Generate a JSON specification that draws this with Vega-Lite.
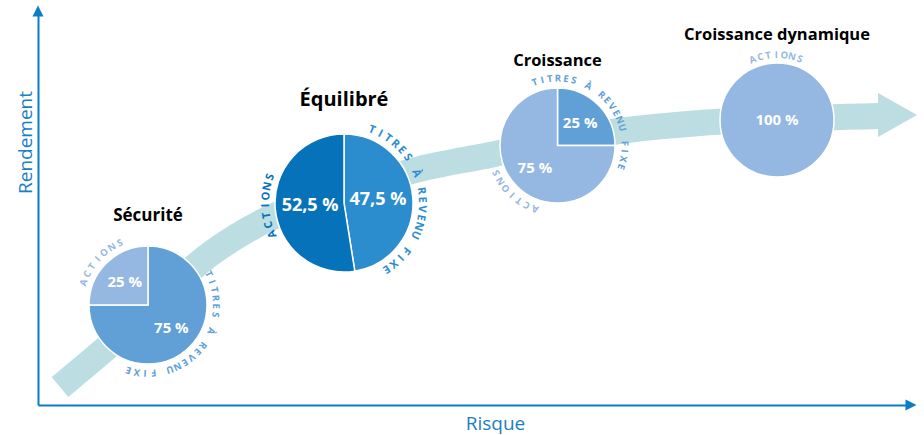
{
  "$schema": "https://vega.github.io/schema/vega-lite/v6.json",
  "width": 870,
  "height": 391,
  "autosize": {"type": "none"},
  "padding": {"left": 38, "top": 14, "right": 16, "bottom": 30},
  "background": "white",
  "datasets": {
    "portefeuilles": [
      {"portefeuille": "Sécurité", "risque": 110, "rendement": 100},
      {"portefeuille": "Équilibré", "risque": 306, "rendement": 202},
      {"portefeuille": "Croissance", "risque": 519.5, "rendement": 259.5},
      {"portefeuille": "Croissance dynamique", "risque": 739, "rendement": 285}
    ],
    "parts": [
      {"portefeuille": "Sécurité", "categorie": "Titres à revenu fixe", "pct": 0.75},
      {"portefeuille": "Sécurité", "categorie": "Actions", "pct": 0.25},
      {"portefeuille": "Équilibré", "categorie": "Titres à revenu fixe", "pct": 0.475},
      {"portefeuille": "Équilibré", "categorie": "Actions", "pct": 0.525},
      {"portefeuille": "Croissance", "categorie": "Titres à revenu fixe", "pct": 0.25},
      {"portefeuille": "Croissance", "categorie": "Actions", "pct": 0.75},
      {"portefeuille": "Croissance dynamique", "categorie": "Actions", "pct": 1}
    ],
    "fleche": [
      {"risque": 22, "rendement": 18},
      {"risque": 80, "rendement": 67},
      {"risque": 175, "rendement": 153},
      {"risque": 224, "rendement": 183},
      {"risque": 306, "rendement": 213},
      {"risque": 382, "rendement": 236},
      {"risque": 452, "rendement": 250},
      {"risque": 519, "rendement": 264},
      {"risque": 589, "rendement": 275},
      {"risque": 662, "rendement": 282},
      {"risque": 739, "rendement": 286},
      {"risque": 842, "rendement": 289}
    ],
    "lettres": [
      {"portefeuille": "Sécurité", "categorie": "Actions", "lettre": "A", "pos": 0.803},
      {"portefeuille": "Sécurité", "categorie": "Actions", "lettre": "C", "pos": 0.825},
      {"portefeuille": "Sécurité", "categorie": "Actions", "lettre": "T", "pos": 0.846},
      {"portefeuille": "Sécurité", "categorie": "Actions", "lettre": "I", "pos": 0.868},
      {"portefeuille": "Sécurité", "categorie": "Actions", "lettre": "O", "pos": 0.889},
      {"portefeuille": "Sécurité", "categorie": "Actions", "lettre": "N", "pos": 0.911},
      {"portefeuille": "Sécurité", "categorie": "Actions", "lettre": "S", "pos": 0.932},
      {"portefeuille": "Sécurité", "categorie": "Titres à revenu fixe", "lettre": "T", "pos": 0.175},
      {"portefeuille": "Sécurité", "categorie": "Titres à revenu fixe", "lettre": "I", "pos": 0.195},
      {"portefeuille": "Sécurité", "categorie": "Titres à revenu fixe", "lettre": "T", "pos": 0.214},
      {"portefeuille": "Sécurité", "categorie": "Titres à revenu fixe", "lettre": "R", "pos": 0.234},
      {"portefeuille": "Sécurité", "categorie": "Titres à revenu fixe", "lettre": "E", "pos": 0.253},
      {"portefeuille": "Sécurité", "categorie": "Titres à revenu fixe", "lettre": "S", "pos": 0.273},
      {"portefeuille": "Sécurité", "categorie": "Titres à revenu fixe", "lettre": "À", "pos": 0.312},
      {"portefeuille": "Sécurité", "categorie": "Titres à revenu fixe", "lettre": "R", "pos": 0.351},
      {"portefeuille": "Sécurité", "categorie": "Titres à revenu fixe", "lettre": "E", "pos": 0.370},
      {"portefeuille": "Sécurité", "categorie": "Titres à revenu fixe", "lettre": "V", "pos": 0.390},
      {"portefeuille": "Sécurité", "categorie": "Titres à revenu fixe", "lettre": "E", "pos": 0.409},
      {"portefeuille": "Sécurité", "categorie": "Titres à revenu fixe", "lettre": "N", "pos": 0.429},
      {"portefeuille": "Sécurité", "categorie": "Titres à revenu fixe", "lettre": "U", "pos": 0.448},
      {"portefeuille": "Sécurité", "categorie": "Titres à revenu fixe", "lettre": "F", "pos": 0.487},
      {"portefeuille": "Sécurité", "categorie": "Titres à revenu fixe", "lettre": "I", "pos": 0.507},
      {"portefeuille": "Sécurité", "categorie": "Titres à revenu fixe", "lettre": "X", "pos": 0.526},
      {"portefeuille": "Sécurité", "categorie": "Titres à revenu fixe", "lettre": "E", "pos": 0.546},
      {"portefeuille": "Équilibré", "categorie": "Actions", "lettre": "A", "pos": 0.685},
      {"portefeuille": "Équilibré", "categorie": "Actions", "lettre": "C", "pos": 0.705},
      {"portefeuille": "Équilibré", "categorie": "Actions", "lettre": "T", "pos": 0.725},
      {"portefeuille": "Équilibré", "categorie": "Actions", "lettre": "I", "pos": 0.745},
      {"portefeuille": "Équilibré", "categorie": "Actions", "lettre": "O", "pos": 0.764},
      {"portefeuille": "Équilibré", "categorie": "Actions", "lettre": "N", "pos": 0.784},
      {"portefeuille": "Équilibré", "categorie": "Actions", "lettre": "S", "pos": 0.804},
      {"portefeuille": "Équilibré", "categorie": "Titres à revenu fixe", "lettre": "T", "pos": 0.058},
      {"portefeuille": "Équilibré", "categorie": "Titres à revenu fixe", "lettre": "I", "pos": 0.077},
      {"portefeuille": "Équilibré", "categorie": "Titres à revenu fixe", "lettre": "T", "pos": 0.095},
      {"portefeuille": "Équilibré", "categorie": "Titres à revenu fixe", "lettre": "R", "pos": 0.114},
      {"portefeuille": "Équilibré", "categorie": "Titres à revenu fixe", "lettre": "E", "pos": 0.132},
      {"portefeuille": "Équilibré", "categorie": "Titres à revenu fixe", "lettre": "S", "pos": 0.151},
      {"portefeuille": "Équilibré", "categorie": "Titres à revenu fixe", "lettre": "À", "pos": 0.188},
      {"portefeuille": "Équilibré", "categorie": "Titres à revenu fixe", "lettre": "R", "pos": 0.225},
      {"portefeuille": "Équilibré", "categorie": "Titres à revenu fixe", "lettre": "E", "pos": 0.243},
      {"portefeuille": "Équilibré", "categorie": "Titres à revenu fixe", "lettre": "V", "pos": 0.262},
      {"portefeuille": "Équilibré", "categorie": "Titres à revenu fixe", "lettre": "E", "pos": 0.280},
      {"portefeuille": "Équilibré", "categorie": "Titres à revenu fixe", "lettre": "N", "pos": 0.298},
      {"portefeuille": "Équilibré", "categorie": "Titres à revenu fixe", "lettre": "U", "pos": 0.317},
      {"portefeuille": "Équilibré", "categorie": "Titres à revenu fixe", "lettre": "F", "pos": 0.354},
      {"portefeuille": "Équilibré", "categorie": "Titres à revenu fixe", "lettre": "I", "pos": 0.372},
      {"portefeuille": "Équilibré", "categorie": "Titres à revenu fixe", "lettre": "X", "pos": 0.391},
      {"portefeuille": "Équilibré", "categorie": "Titres à revenu fixe", "lettre": "E", "pos": 0.409},
      {"portefeuille": "Croissance", "categorie": "Titres à revenu fixe", "lettre": "T", "pos": -0.055},
      {"portefeuille": "Croissance", "categorie": "Titres à revenu fixe", "lettre": "I", "pos": -0.036},
      {"portefeuille": "Croissance", "categorie": "Titres à revenu fixe", "lettre": "T", "pos": -0.018},
      {"portefeuille": "Croissance", "categorie": "Titres à revenu fixe", "lettre": "R", "pos": 0.001},
      {"portefeuille": "Croissance", "categorie": "Titres à revenu fixe", "lettre": "E", "pos": 0.020},
      {"portefeuille": "Croissance", "categorie": "Titres à revenu fixe", "lettre": "S", "pos": 0.039},
      {"portefeuille": "Croissance", "categorie": "Titres à revenu fixe", "lettre": "À", "pos": 0.076},
      {"portefeuille": "Croissance", "categorie": "Titres à revenu fixe", "lettre": "R", "pos": 0.114},
      {"portefeuille": "Croissance", "categorie": "Titres à revenu fixe", "lettre": "E", "pos": 0.132},
      {"portefeuille": "Croissance", "categorie": "Titres à revenu fixe", "lettre": "V", "pos": 0.151},
      {"portefeuille": "Croissance", "categorie": "Titres à revenu fixe", "lettre": "E", "pos": 0.170},
      {"portefeuille": "Croissance", "categorie": "Titres à revenu fixe", "lettre": "N", "pos": 0.188},
      {"portefeuille": "Croissance", "categorie": "Titres à revenu fixe", "lettre": "U", "pos": 0.207},
      {"portefeuille": "Croissance", "categorie": "Titres à revenu fixe", "lettre": "F", "pos": 0.245},
      {"portefeuille": "Croissance", "categorie": "Titres à revenu fixe", "lettre": "I", "pos": 0.263},
      {"portefeuille": "Croissance", "categorie": "Titres à revenu fixe", "lettre": "X", "pos": 0.282},
      {"portefeuille": "Croissance", "categorie": "Titres à revenu fixe", "lettre": "E", "pos": 0.301},
      {"portefeuille": "Croissance", "categorie": "Actions", "lettre": "A", "pos": 0.554},
      {"portefeuille": "Croissance", "categorie": "Actions", "lettre": "C", "pos": 0.576},
      {"portefeuille": "Croissance", "categorie": "Actions", "lettre": "T", "pos": 0.597},
      {"portefeuille": "Croissance", "categorie": "Actions", "lettre": "I", "pos": 0.618},
      {"portefeuille": "Croissance", "categorie": "Actions", "lettre": "O", "pos": 0.640},
      {"portefeuille": "Croissance", "categorie": "Actions", "lettre": "N", "pos": 0.661},
      {"portefeuille": "Croissance", "categorie": "Actions", "lettre": "S", "pos": 0.683},
      {"portefeuille": "Croissance dynamique", "categorie": "Actions", "lettre": "A", "pos": -0.061},
      {"portefeuille": "Croissance dynamique", "categorie": "Actions", "lettre": "C", "pos": -0.041},
      {"portefeuille": "Croissance dynamique", "categorie": "Actions", "lettre": "T", "pos": -0.022},
      {"portefeuille": "Croissance dynamique", "categorie": "Actions", "lettre": "I", "pos": -0.002},
      {"portefeuille": "Croissance dynamique", "categorie": "Actions", "lettre": "O", "pos": 0.018},
      {"portefeuille": "Croissance dynamique", "categorie": "Actions", "lettre": "N", "pos": 0.037},
      {"portefeuille": "Croissance dynamique", "categorie": "Actions", "lettre": "S", "pos": 0.057}
    ]
  },
  "encoding": {
    "x": {"field": "risque", "type": "quantitative", "title": "Risque", "scale": {"domain": [0, 870], "nice": false, "zero": false}},
    "y": {"field": "rendement", "type": "quantitative", "title": "Rendement", "scale": {"domain": [0, 391], "nice": false, "zero": false}}
  },
  "layer": [
    {
      "data": {"name": "fleche"},
      "mark": {"type": "line", "color": "#bcdde1", "strokeWidth": 26, "strokeCap": "butt", "interpolate": "monotone"},
      "encoding": {}
    },
    {
      "data": {"values": [{"risque": 859.5, "rendement": 290}]},
      "mark": {"type": "point", "shape": "M -0.886 -1 L 0.886 0 L -0.886 1 Z", "size": 1936, "filled": true, "opacity": 1, "color": "#bcdde1", "strokeWidth": 0},
      "encoding": {}
    },
    {
      "data": {"values": [{"axe": "Risque", "risque": 873, "rendement": 0}, {"axe": "Rendement", "risque": 0, "rendement": 394}]},
      "mark": {"type": "point", "filled": true, "opacity": 1, "color": "#0b7dc4", "strokeWidth": 0, "size": 121},
      "encoding": {
        "shape": {"field": "axe", "type": "nominal", "scale": {"domain": ["Risque", "Rendement"], "range": ["M -1 -1 L 1 0 L -1 1 Z", "M -1 1 L 0 -1 L 1 1 Z"]}, "legend": null}
      }
    },
    {
      "data": {"name": "parts"},
      "transform": [
        {"filter": {"field": "portefeuille", "equal": "Sécurité"}},
        {"lookup": "portefeuille", "from": {"data": {"name": "portefeuilles"}, "key": "portefeuille", "fields": ["risque", "rendement"]}}
      ],
      "layer": [
        {
          "mark": {"type": "arc", "outerRadius": 59, "stroke": "white", "strokeWidth": 1.5},
          "encoding": {
            "theta": {"field": "pct", "type": "quantitative", "stack": true, "scale": {"domain": [0, 1]}},
            "order": {"field": "categorie", "sort": "descending"},
            "color": {"condition": [{"test": "datum.portefeuille === 'Équilibré' && datum.categorie === 'Actions'", "value": "#0572ba"}, {"test": "datum.portefeuille === 'Équilibré'", "value": "#2b8dcd"}, {"test": "datum.categorie === 'Actions'", "value": "#95b8e2"}], "value": "#60a0d6"}
          }
        },
        {
          "mark": {"type": "text", "radius": 33, "font": "Open Sans", "fontWeight": "bold", "fontSize": 15, "color": "white", "align": "center", "baseline": "middle"},
          "encoding": {
            "theta": {"field": "pct", "type": "quantitative", "stack": true, "scale": {"domain": [0, 1]}},
            "order": {"field": "categorie", "sort": "descending"},
            "text": {"field": "pct", "type": "quantitative", "format": ".1~%"}
          }
        },
        {
          "transform": [{"aggregate": [{"op": "count", "as": "n"}], "groupby": ["portefeuille", "risque", "rendement"]}],
          "mark": {"type": "text", "dy": -84, "baseline": "alphabetic", "align": "center", "font": "Open Sans", "fontWeight": "bold", "fontSize": 17, "color": "black"},
          "encoding": {"text": {"field": "portefeuille"}}
        }
      ]
    },
    {
      "data": {"name": "parts"},
      "transform": [
        {"filter": {"field": "portefeuille", "equal": "Équilibré"}},
        {"lookup": "portefeuille", "from": {"data": {"name": "portefeuilles"}, "key": "portefeuille", "fields": ["risque", "rendement"]}}
      ],
      "layer": [
        {
          "mark": {"type": "arc", "outerRadius": 69, "stroke": "white", "strokeWidth": 1.5},
          "encoding": {
            "theta": {"field": "pct", "type": "quantitative", "stack": true, "scale": {"domain": [0, 1]}},
            "order": {"field": "categorie", "sort": "descending"},
            "color": {"condition": [{"test": "datum.portefeuille === 'Équilibré' && datum.categorie === 'Actions'", "value": "#0572ba"}, {"test": "datum.portefeuille === 'Équilibré'", "value": "#2b8dcd"}, {"test": "datum.categorie === 'Actions'", "value": "#95b8e2"}], "value": "#60a0d6"}
          }
        },
        {
          "mark": {"type": "text", "radius": 34, "font": "Open Sans", "fontWeight": "bold", "fontSize": 18, "color": "white", "align": "center", "baseline": "middle"},
          "encoding": {
            "theta": {"field": "pct", "type": "quantitative", "stack": true, "scale": {"domain": [0, 1]}},
            "order": {"field": "categorie", "sort": "descending"},
            "text": {"field": "pct", "type": "quantitative", "format": ".1~%"}
          }
        },
        {
          "transform": [{"aggregate": [{"op": "count", "as": "n"}], "groupby": ["portefeuille", "risque", "rendement"]}],
          "mark": {"type": "text", "dy": -97, "baseline": "alphabetic", "align": "center", "font": "Open Sans", "fontWeight": "bold", "fontSize": 20, "color": "black"},
          "encoding": {"text": {"field": "portefeuille"}}
        }
      ]
    },
    {
      "data": {"name": "parts"},
      "transform": [
        {"filter": {"field": "portefeuille", "equal": "Croissance"}},
        {"lookup": "portefeuille", "from": {"data": {"name": "portefeuilles"}, "key": "portefeuille", "fields": ["risque", "rendement"]}}
      ],
      "layer": [
        {
          "mark": {"type": "arc", "outerRadius": 57.5, "stroke": "white", "strokeWidth": 1.5},
          "encoding": {
            "theta": {"field": "pct", "type": "quantitative", "stack": true, "scale": {"domain": [0, 1]}},
            "order": {"field": "categorie", "sort": "descending"},
            "color": {"condition": [{"test": "datum.portefeuille === 'Équilibré' && datum.categorie === 'Actions'", "value": "#0572ba"}, {"test": "datum.portefeuille === 'Équilibré'", "value": "#2b8dcd"}, {"test": "datum.categorie === 'Actions'", "value": "#95b8e2"}], "value": "#60a0d6"}
          }
        },
        {
          "mark": {"type": "text", "radius": 32, "font": "Open Sans", "fontWeight": "bold", "fontSize": 15, "color": "white", "align": "center", "baseline": "middle"},
          "encoding": {
            "theta": {"field": "pct", "type": "quantitative", "stack": true, "scale": {"domain": [0, 1]}},
            "order": {"field": "categorie", "sort": "descending"},
            "text": {"field": "pct", "type": "quantitative", "format": ".1~%"}
          }
        },
        {
          "transform": [{"aggregate": [{"op": "count", "as": "n"}], "groupby": ["portefeuille", "risque", "rendement"]}],
          "mark": {"type": "text", "dy": -80, "baseline": "alphabetic", "align": "center", "font": "Open Sans", "fontWeight": "bold", "fontSize": 16.5, "color": "black"},
          "encoding": {"text": {"field": "portefeuille"}}
        }
      ]
    },
    {
      "data": {"name": "parts"},
      "transform": [
        {"filter": {"field": "portefeuille", "equal": "Croissance dynamique"}},
        {"lookup": "portefeuille", "from": {"data": {"name": "portefeuilles"}, "key": "portefeuille", "fields": ["risque", "rendement"]}}
      ],
      "layer": [
        {
          "mark": {"type": "arc", "outerRadius": 57, "stroke": "white", "strokeWidth": 1.5},
          "encoding": {
            "theta": {"field": "pct", "type": "quantitative", "stack": true, "scale": {"domain": [0, 1]}},
            "order": {"field": "categorie", "sort": "descending"},
            "color": {"condition": [{"test": "datum.portefeuille === 'Équilibré' && datum.categorie === 'Actions'", "value": "#0572ba"}, {"test": "datum.portefeuille === 'Équilibré'", "value": "#2b8dcd"}, {"test": "datum.categorie === 'Actions'", "value": "#95b8e2"}], "value": "#60a0d6"}
          }
        },
        {
          "mark": {"type": "text", "radius": 0, "font": "Open Sans", "fontWeight": "bold", "fontSize": 15, "color": "white", "align": "center", "baseline": "middle"},
          "encoding": {
            "theta": {"field": "pct", "type": "quantitative", "stack": true, "scale": {"domain": [0, 1]}},
            "order": {"field": "categorie", "sort": "descending"},
            "text": {"field": "pct", "type": "quantitative", "format": ".1~%"}
          }
        },
        {
          "transform": [{"aggregate": [{"op": "count", "as": "n"}], "groupby": ["portefeuille", "risque", "rendement"]}],
          "mark": {"type": "text", "dy": -80, "baseline": "alphabetic", "align": "center", "font": "Open Sans", "fontWeight": "bold", "fontSize": 16.5, "color": "black"},
          "encoding": {"text": {"field": "portefeuille"}}
        }
      ]
    },
    {
      "data": {"name": "lettres"},
      "transform": [
        {"filter": {"field": "portefeuille", "equal": "Sécurité"}},
        {"lookup": "portefeuille", "from": {"data": {"name": "portefeuilles"}, "key": "portefeuille", "fields": ["risque", "rendement"]}}
      ],
      "mark": {"type": "text", "radius": 68, "font": "Open Sans", "fontWeight": "bold", "fontSize": 9.5, "align": "center", "baseline": "middle"},
      "encoding": {
        "theta": {"field": "pos", "type": "quantitative", "stack": null, "scale": {"domain": [0, 1]}},
        "angle": {"field": "pos", "type": "quantitative", "scale": {"domain": [0, 1], "range": [0, 360]}, "legend": null},
        "text": {"field": "lettre"},
        "color": {"condition": [{"test": "datum.portefeuille === 'Équilibré' && datum.categorie === 'Actions'", "value": "#0572ba"}, {"test": "datum.portefeuille === 'Équilibré'", "value": "#2b8dcd"}, {"test": "datum.categorie === 'Actions'", "value": "#95b8e2"}], "value": "#60a0d6"}
      }
    },
    {
      "data": {"name": "lettres"},
      "transform": [
        {"filter": {"field": "portefeuille", "equal": "Équilibré"}},
        {"lookup": "portefeuille", "from": {"data": {"name": "portefeuilles"}, "key": "portefeuille", "fields": ["risque", "rendement"]}}
      ],
      "mark": {"type": "text", "radius": 78, "font": "Open Sans", "fontWeight": "bold", "fontSize": 11, "align": "center", "baseline": "middle"},
      "encoding": {
        "theta": {"field": "pos", "type": "quantitative", "stack": null, "scale": {"domain": [0, 1]}},
        "angle": {"field": "pos", "type": "quantitative", "scale": {"domain": [0, 1], "range": [0, 360]}, "legend": null},
        "text": {"field": "lettre"},
        "color": {"condition": [{"test": "datum.portefeuille === 'Équilibré' && datum.categorie === 'Actions'", "value": "#0572ba"}, {"test": "datum.portefeuille === 'Équilibré'", "value": "#2b8dcd"}, {"test": "datum.categorie === 'Actions'", "value": "#95b8e2"}], "value": "#60a0d6"}
      }
    },
    {
      "data": {"name": "lettres"},
      "transform": [
        {"filter": {"field": "portefeuille", "equal": "Croissance"}},
        {"lookup": "portefeuille", "from": {"data": {"name": "portefeuilles"}, "key": "portefeuille", "fields": ["risque", "rendement"]}}
      ],
      "mark": {"type": "text", "radius": 67, "font": "Open Sans", "fontWeight": "bold", "fontSize": 9.5, "align": "center", "baseline": "middle"},
      "encoding": {
        "theta": {"field": "pos", "type": "quantitative", "stack": null, "scale": {"domain": [0, 1]}},
        "angle": {"field": "pos", "type": "quantitative", "scale": {"domain": [0, 1], "range": [0, 360]}, "legend": null},
        "text": {"field": "lettre"},
        "color": {"condition": [{"test": "datum.portefeuille === 'Équilibré' && datum.categorie === 'Actions'", "value": "#0572ba"}, {"test": "datum.portefeuille === 'Équilibré'", "value": "#2b8dcd"}, {"test": "datum.categorie === 'Actions'", "value": "#95b8e2"}], "value": "#60a0d6"}
      }
    },
    {
      "data": {"name": "lettres"},
      "transform": [
        {"filter": {"field": "portefeuille", "equal": "Croissance dynamique"}},
        {"lookup": "portefeuille", "from": {"data": {"name": "portefeuilles"}, "key": "portefeuille", "fields": ["risque", "rendement"]}}
      ],
      "mark": {"type": "text", "radius": 65, "font": "Open Sans", "fontWeight": "bold", "fontSize": 9.5, "align": "center", "baseline": "middle"},
      "encoding": {
        "theta": {"field": "pos", "type": "quantitative", "stack": null, "scale": {"domain": [0, 1]}},
        "angle": {"field": "pos", "type": "quantitative", "scale": {"domain": [0, 1], "range": [0, 360]}, "legend": null},
        "text": {"field": "lettre"},
        "color": {"condition": [{"test": "datum.portefeuille === 'Équilibré' && datum.categorie === 'Actions'", "value": "#0572ba"}, {"test": "datum.portefeuille === 'Équilibré'", "value": "#2b8dcd"}, {"test": "datum.categorie === 'Actions'", "value": "#95b8e2"}], "value": "#60a0d6"}
      }
    }
  ],
  "config": {
    "view": {"stroke": null},
    "locale": {"number": {"decimal": ",", "thousands": " ", "grouping": [3], "currency": ["", " €"], "percent": " %"}},
    "axis": {"grid": false, "ticks": false, "labels": false, "domainColor": "#0b7dc4", "domainWidth": 2, "titleColor": "#1a80c4", "titleFont": "Open Sans", "titleFontSize": 19, "titleFontWeight": "normal"},
    "axisX": {"titleX": 457, "titleY": 24, "titleBaseline": "alphabetic", "titleAlign": "center", "titleAnchor": null},
    "axisY": {"titleX": -7, "titleY": 128, "titleBaseline": "alphabetic", "titleAlign": "center", "titleAngle": -90}
  }
}
